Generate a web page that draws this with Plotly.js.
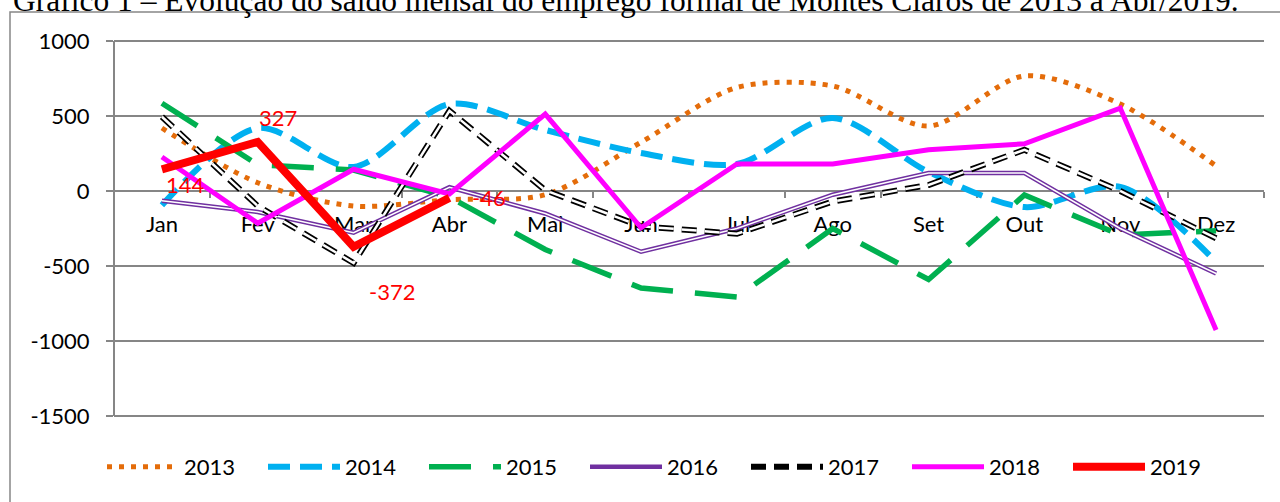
<!DOCTYPE html>
<html><head><meta charset="utf-8">
<script src="https://cdn.plot.ly/plotly-3.0.1.min.js"></script>
<style>html,body{margin:0;padding:0;background:#fff;} #chart{width:1280px;height:502px;}</style>
</head><body><div id="chart"></div>
<script>
// ---- data ----
const months = ['Jan','Fev','Mar','Abr','Mai','Jun','Jul','Ago','Set','Out','Nov','Dez'];
const s2013 = [420, 55, -100, -58, -25, 325, 690, 700, 433, 767, 580, 167];
const s2014 = [-95, 420, 160, 580, 407, 253, 180, 487, 127, -107, 27, -473];
const s2015 = [585, 175, 140, -40, -390, -647, -707, -250, -590, -27, -293, -265];
const s2016 = [-65, -140, -278, 25, -150, -405, -250, -25, 120, 120, -250, -550];
const s2017 = [495, -100, -480, 535, 5, -235, -285, -70, 40, 275, 0, -315];
const s2018 = [227, -215, 145, -20, 513, -245, 180, 180, 275, 315, 553, -927];
const s2019 = [144, 327, -372, -46];
const yTicks = [1000, 500, 0, -500, -1000, -1500];
const yTickText = ['1000', '500', '0', '-500', '-1000', '-1500'];
const titleText = 'Gráfico 1 – Evolução do saldo mensal do emprego formal de Montes Claros de 2013 a Abr/2019.';

// ---- styling / layout helpers ----
const labelShift = [[24,-15],[20,24],[38,-45],[40,0]];
const W = 1280, H = 502;
const PL = 114, PR = 1264;
const EDGE = 2;                         // px of breathing room so the 1000 / -1500 grid lines are kept
const PT = 41 - EDGE, PB = 416 + EDGE;
const unitsPerPx = 500 / 75;
const yRange = [-1500 - EDGE * unitsPerPx, 1000 + EDGE * unitsPerPx];
const px = v => (v - PL) / (PR - PL);
const py = v => (PB - v) / (PB - PT);
const grid = '#868686';
const tickFont = {family:'Lato', size:22, color:'#000'};

function line(name, y, color, width, dash, shape, showlegend, smoothing) {
  return {type:'scatter', mode:'lines', name:name, x:months.slice(0, y.length), y:y,
    line:{color:color, width:width, dash:dash||'solid', shape:shape||'linear', smoothing:smoothing||1},
    showlegend: showlegend !== false, hoverinfo:'skip', legendgroup:name};
}

const traces = [
  line('2013', s2013, '#E46C0A', 5, '5px,7px', 'spline', true, 0.85),
  line('2014', s2014, '#00B0F0', 6, '22px,10px', 'spline', true, 0.85),
  line('2015', s2015, '#00B050', 5.5, '42px,22px', 'linear'),
  line('2016', s2016, '#7030A0', 4.5, 'solid', 'linear'),
  line('2016', s2016, '#FFFFFF', 1.5, 'solid', 'linear', false),
  line('2017', s2017, '#000000', 6, '15px,8px', 'linear'),
  line('2017', s2017, '#FFFFFF', 2.5, '15px,8px', 'linear', false),
  line('2018', s2018, '#FF00FF', 5, 'solid', 'linear'),
  line('2019', s2019, '#FF0000', 8, 'solid', 'linear')
];

const annotations = s2019.map((v, i) => ({
  x: months[i], y: v, xref:'x', yref:'y', text: String(v), showarrow:false,
  xshift: labelShift[i][0], yshift: labelShift[i][1],
  font:{family:'Lato', size:22, color:'#FF0000'}
}));

const layout = {
  width: W, height: H,
  margin: {l:PL, r:W-PR, t:PT, b:H-PB, pad:0},
  paper_bgcolor:'#fff', plot_bgcolor:'#fff',
  title: {text:titleText, font:{family:'Liberation Serif', size:31.5, color:'#000'},
    x: 13/W, xanchor:'left', xref:'container', y: 1 - 11/H, yref:'container', yanchor:'bottom',
    pad:{t:0,b:0,l:0,r:0}},
  xaxis: {type:'category', range:[-0.5, 11.5], anchor:'free', position: py(191),
    showline:true, linecolor:grid, linewidth:2, ticks:'outside', ticklen:6, tickcolor:grid, tickwidth:2,
    tickson:'boundaries', showgrid:false, zeroline:false, tickfont:tickFont, layer:'below traces',
    ticklabelstandoff: 14, fixedrange:true},
  yaxis: {range:yRange, tickmode:'array', tickvals:yTicks, ticktext:yTickText,
    showline:false, ticks:'outside', ticklen:7, tickcolor:grid, tickwidth:2,
    showgrid:true, gridcolor:grid, gridwidth:2, zeroline:false, tickfont:tickFont,
    ticklabelstandoff: 12, fixedrange:true},
  legend: {orientation:'h', x: px(102), xanchor:'left', y: py(467), yanchor:'middle',
    font:{family:'Lato', size:22, color:'#000'}, itemwidth:72, entrywidth:74, entrywidthmode:'pixels',
    bgcolor:'rgba(0,0,0,0)', borderwidth:0},
  shapes: [
    {type:'rect', xref:'paper', yref:'paper', x0:px(10), x1:px(1295), y0:py(520), y1:py(12),
      line:{color:grid, width:1.5}, fillcolor:'rgba(0,0,0,0)', layer:'below'},
    // vertical value-axis line spanning the 1000 .. -1500 grid
    {type:'line', xref:'paper', yref:'y', x0:0, x1:0, y0:yTicks[yTicks.length-1], y1:yTicks[0],
      line:{color:grid, width:2}, layer:'below'}
  ],
  annotations: annotations,
  showlegend: true
};

Plotly.newPlot('chart', traces, layout, {staticPlot:true, displayModeBar:false});
</script>
</body></html>
